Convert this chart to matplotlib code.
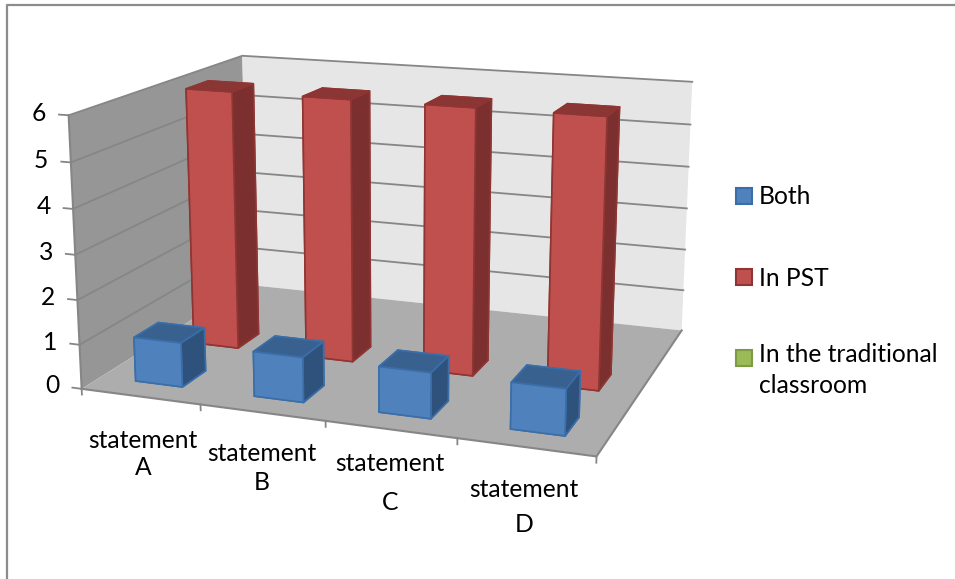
import numpy as np
import matplotlib
matplotlib.use('Agg')
import matplotlib.pyplot as plt
from matplotlib.lines import Line2D
from matplotlib.patches import Rectangle
from mpl_toolkits.mplot3d import proj3d
from mpl_toolkits.mplot3d.art3d import Poly3DCollection

categories = ['statement\nA', 'statement\nB', 'statement\nC', 'statement\nD']
series_names = ['Both', 'In PST', 'In the traditional\nclassroom']
both = [1, 1, 1, 1]
in_pst = [6, 6, 6, 6]
traditional = [0, 0, 0, 0]
z_ticks = [0, 1, 2, 3, 4, 5, 6]

W, H = 955, 579
GRID = '#868686'

plt.rcParams['font.family'] = ['Lato', 'DejaVu Sans']
FS = 17.7


def fx(x):
    return x / W


def fy(y):
    return 1 - y / H


fig = plt.figure(figsize=(W / 100, H / 100), dpi=100, facecolor='white')
# oversized axes so the 3D box is not clipped to the square viewport
cx, cy = 0.399, 0.575
ax = fig.add_axes([cx - 1.0, cy - 1.0, 2.0, 2.0], projection='3d')
ax.computed_zorder = False
ax.set_axis_off()
ax.patch.set_alpha(0)
ax.set_xlim(0, 4, view_margin=0)
ax.set_ylim(0, 3, view_margin=0)
ax.set_zlim(0, 6, view_margin=0)
ax.set_box_aspect((4, 3, 2.11), zoom=0.58)
ax.set_proj_type('persp', focal_length=0.28)
ax.view_init(elev=14.5, azim=-70)

# walls and floor
top = z_ticks[-1]
walls = [
    ([[0, 0, 0], [0, 3, 0], [0, 3, top], [0, 0, top]], '#969696'),
    ([[0, 3, 0], [4, 3, 0], [4, 3, top], [0, 3, top]], '#e6e6e6'),
    ([[0, 0, 0], [4, 0, 0], [4, 3, 0], [0, 3, 0]], '#adadad'),
]
for verts, col in walls:
    ax.add_collection3d(Poly3DCollection([verts], facecolor=col, edgecolor='none', zorder=1))

# gridlines on the walls
for z in z_ticks[1:]:
    ax.plot([0, 0, 4], [0, 3, 3], [z, z, z], color=GRID, lw=1.3, zorder=2)
ax.plot([0, 0], [0, 0], [0, top], color=GRID, lw=1.5, zorder=2)
ax.plot([0, 4, 4], [0, 0, 3], [0, 0, 0], color=GRID, lw=1.5, zorder=2)

# axis ticks, labels placed through the 3D projection
M = ax.get_proj()
for z in z_ticks:
    ax.plot([-0.08, 0], [0, 0], [z, z], color=GRID, lw=1.3, zorder=2)
    tx, ty, _ = proj3d.proj_transform(-0.19, 0, z, M)
    ax.text2D(tx, ty, str(z), transform=ax.transData, ha='right', va='center', fontsize=FS, color='black')
for i in range(len(categories) + 1):
    ax.plot([i, i], [0, 0], [0, -0.13], color=GRID, lw=1.3, zorder=2)

# columns, one row per series, back to front
bar_w = 0.4
offset = (1 - bar_w) / 2
xs = np.arange(len(categories)) + offset
rows = [
    (traditional, 2, ['#9bbb59', '#76923c', '#9bbb59', '#9bbb59', '#9bbb59', '#5f7530'], '#7d9a45', 3),
    (in_pst, 1, ['#8a3634', '#8a3634', '#c0504d', '#c0504d', '#7b2f2e', '#7b2f2e'], '#8f3533', 4),
    (both, 0, ['#39618f', '#39618f', '#4f81bd', '#4f81bd', '#2f527d', '#2f527d'], '#3a6ea8', 5),
]
for values, row, faces, edge, zo in rows:
    vals = np.array(values, dtype=float)
    keep = vals > 0
    if not keep.any():
        continue
    n = keep.sum()
    ax.bar3d(xs[keep], np.full(n, row + offset), np.zeros(n), bar_w, bar_w, vals[keep],
             color=faces * n, edgecolor=edge, linewidth=1.2, shade=False, zorder=zo)

# category labels sit on uneven lines
label_x = [143, 262, 390, 524]
label_y = [454, 468, 483, 507]
label_sp = [1.2, 1.33, 1.8, 1.65]
for name, x, y, sp in zip(categories, label_x, label_y, label_sp):
    fig.text(fx(x), fy(y), name, ha='center', va='center', ma='center', fontsize=FS,
             linespacing=sp, color='black')

# legend
swatches = [('#4f81bd', '#3a6ea8', 196), ('#c0504d', '#8f3533', 277), ('#9bbb59', '#7d9a45', 358)]
for name, (face, edge, y) in zip(series_names, swatches):
    fig.add_artist(Rectangle((fx(736), fy(y + 8)), 16 / W, 16 / H, transform=fig.transFigure,
                             facecolor=face, edgecolor=edge, lw=1.5))
    if '\n' in name:
        fig.text(fx(759), fy(y - 15), name, ha='left', va='top', fontsize=FS, linespacing=1.42)
    else:
        fig.text(fx(759), fy(y + 1), name, ha='left', va='center', fontsize=FS)

# chart area border, only the top and left edges show
fig.add_artist(Line2D([fx(7), fx(7), 1], [0, fy(5), fy(5)], transform=fig.transFigure,
                      color='#8c8c8c', lw=1.6))

fig.savefig('out.png', dpi=100)
